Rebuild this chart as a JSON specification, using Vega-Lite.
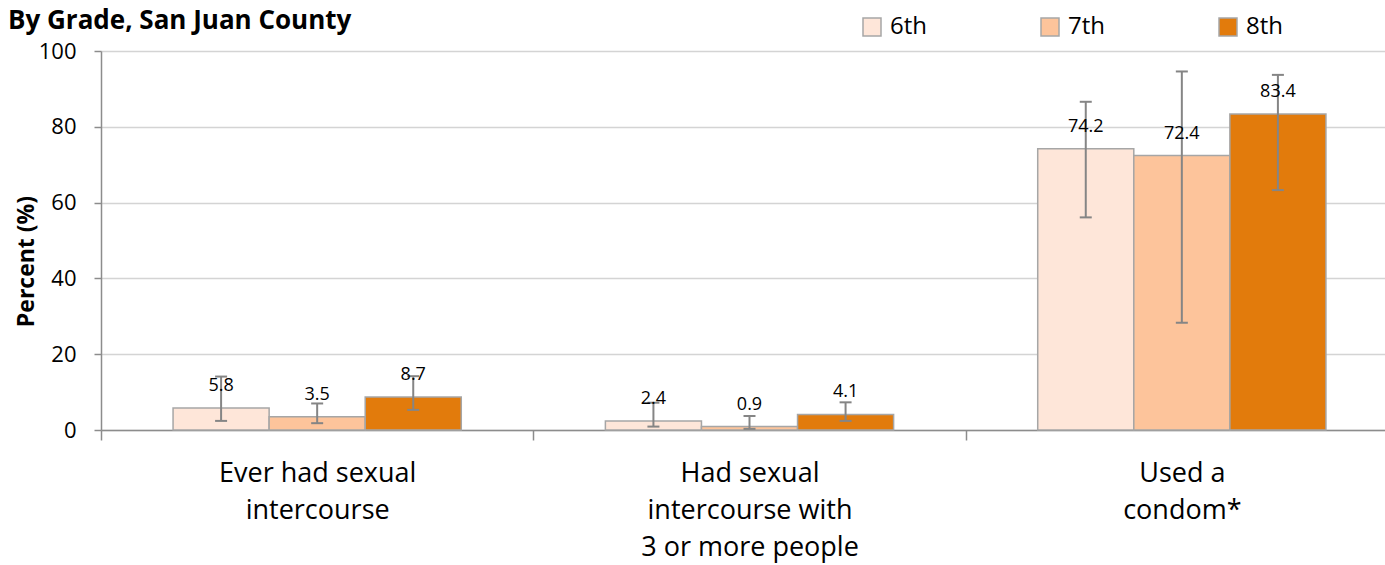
{
  "$schema": "https://vega.github.io/schema/vega-lite/v6.json",
  "width": 1297,
  "height": 379,
  "autosize": {"type": "none"},
  "padding": {"left": 101, "top": 51, "right": 0, "bottom": 135},
  "background": "white",
  "title": {
    "text": "By Grade, San Juan County",
    "anchor": "start",
    "frame": "group",
    "font": "Open Sans",
    "fontSize": 26,
    "fontWeight": "bold",
    "color": "#000000",
    "baseline": "alphabetic",
    "dx": -93,
    "dy": 40,
    "offset": 0
  },
  "config": {"view": {"stroke": null}},
  "data": {
    "values": [
      {"category": "Ever had sexual intercourse", "grade": "6th", "value": 5.8, "lo": 2.4, "hi": 14.1},
      {"category": "Ever had sexual intercourse", "grade": "7th", "value": 3.5, "lo": 1.8, "hi": 7.0},
      {"category": "Ever had sexual intercourse", "grade": "8th", "value": 8.7, "lo": 5.3, "hi": 14.2},
      {"category": "Had sexual intercourse with 3 or more people", "grade": "6th", "value": 2.4, "lo": 0.9, "hi": 7.2},
      {"category": "Had sexual intercourse with 3 or more people", "grade": "7th", "value": 0.9, "lo": 0.3, "hi": 3.7},
      {"category": "Had sexual intercourse with 3 or more people", "grade": "8th", "value": 4.1, "lo": 2.4, "hi": 7.3},
      {"category": "Used a condom*", "grade": "6th", "value": 74.2, "lo": 56.1, "hi": 86.6},
      {"category": "Used a condom*", "grade": "7th", "value": 72.4, "lo": 28.3, "hi": 94.6},
      {"category": "Used a condom*", "grade": "8th", "value": 83.4, "lo": 63.3, "hi": 93.7}
    ]
  },
  "encoding": {
    "x": {
      "field": "category",
      "type": "nominal",
      "sort": ["Ever had sexual intercourse", "Had sexual intercourse with 3 or more people", "Used a condom*"],
      "scale": {"paddingInner": 0, "paddingOuter": 0},
      "axis": {
        "title": null,
        "labelAngle": 0,
        "labelFont": "Open Sans",
        "labelFontSize": 27,
        "labelColor": "#000000",
        "labelPadding": 20,
        "labelLineHeight": 37,
        "labelBaseline": "top",
        "labelLimit": 0,
        "labelExpr": "datum.value == 'Ever had sexual intercourse' ? ['Ever had sexual', 'intercourse'] : datum.value == 'Used a condom*' ? ['Used a', 'condom*'] : datum.value == 'Had sexual intercourse with 3 or more people' ? ['Had sexual', 'intercourse with', '3 or more people'] : ''",
        "tickBand": "extent",
        "tickSize": 10,
        "tickColor": "#8C8C8C",
        "tickWidth": 1.5,
        "domainColor": "#8C8C8C",
        "domainWidth": 1.5,
        "grid": false
      }
    },
    "xOffset": {
      "field": "grade",
      "type": "nominal",
      "sort": ["6th", "7th", "8th"],
      "scale": {"paddingInner": 0, "paddingOuter": 0.75}
    }
  },
  "layer": [
    {
      "mark": {"type": "bar", "stroke": "#A6A6A6", "strokeWidth": 1.5},
      "encoding": {
        "y": {
          "field": "value",
          "type": "quantitative",
          "title": "Percent (%)",
          "scale": {"domain": [0, 100], "nice": false},
          "axis": {
            "values": [0, 20, 40, 60, 80, 100],
            "grid": true,
            "gridColor": "#D4D4D4",
            "gridWidth": 1.5,
            "domainColor": "#8C8C8C",
            "domainWidth": 1.5,
            "tickColor": "#8C8C8C",
            "tickWidth": 1.5,
            "tickSize": 7,
            "labelFont": "Open Sans",
            "labelFontSize": 22,
            "labelColor": "#000000",
            "labelPadding": 18,
            "titleFont": "Open Sans",
            "titleFontSize": 23,
            "titleFontWeight": "bold",
            "titleColor": "#000000",
            "titleAngle": -90,
            "titleX": -68,
            "titleY": 210,
            "titleAlign": "center",
            "titleBaseline": "alphabetic"
          }
        },
        "color": {
          "field": "grade",
          "type": "nominal",
          "sort": ["6th", "7th", "8th"],
          "scale": {"domain": ["6th", "7th", "8th"], "range": ["#FEE6D9", "#FDC49B", "#E27B0C"]},
          "legend": {
            "orient": "none",
            "legendX": 759,
            "legendY": -36,
            "direction": "horizontal",
            "title": null,
            "padding": 0,
            "symbolType": "square",
            "symbolSize": 324,
            "symbolStrokeColor": "#A6A6A6",
            "symbolStrokeWidth": 1.5,
            "symbolOpacity": 1,
            "labelFont": "Open Sans",
            "labelFontSize": 24,
            "labelColor": "#000000",
            "labelOffset": 6,
            "columnPadding": 111
          }
        }
      }
    },
    {
      "mark": {"type": "rule", "color": "#858585", "strokeWidth": 2},
      "encoding": {
        "y": {"field": "lo", "type": "quantitative", "title": "Percent (%)"},
        "y2": {"field": "hi"}
      }
    },
    {
      "mark": {"type": "tick", "color": "#858585", "thickness": 2, "size": 12, "opacity": 1},
      "encoding": {"y": {"field": "lo", "type": "quantitative", "title": "Percent (%)"}}
    },
    {
      "mark": {"type": "tick", "color": "#858585", "thickness": 2, "size": 12, "opacity": 1},
      "encoding": {"y": {"field": "hi", "type": "quantitative", "title": "Percent (%)"}}
    },
    {
      "mark": {"type": "text", "dy": -17, "baseline": "alphabetic", "font": "Open Sans", "fontSize": 18, "color": "#000000"},
      "encoding": {
        "y": {"field": "value", "type": "quantitative", "title": "Percent (%)"},
        "text": {"field": "value", "type": "quantitative", "format": ".1f"}
      }
    }
  ]
}
